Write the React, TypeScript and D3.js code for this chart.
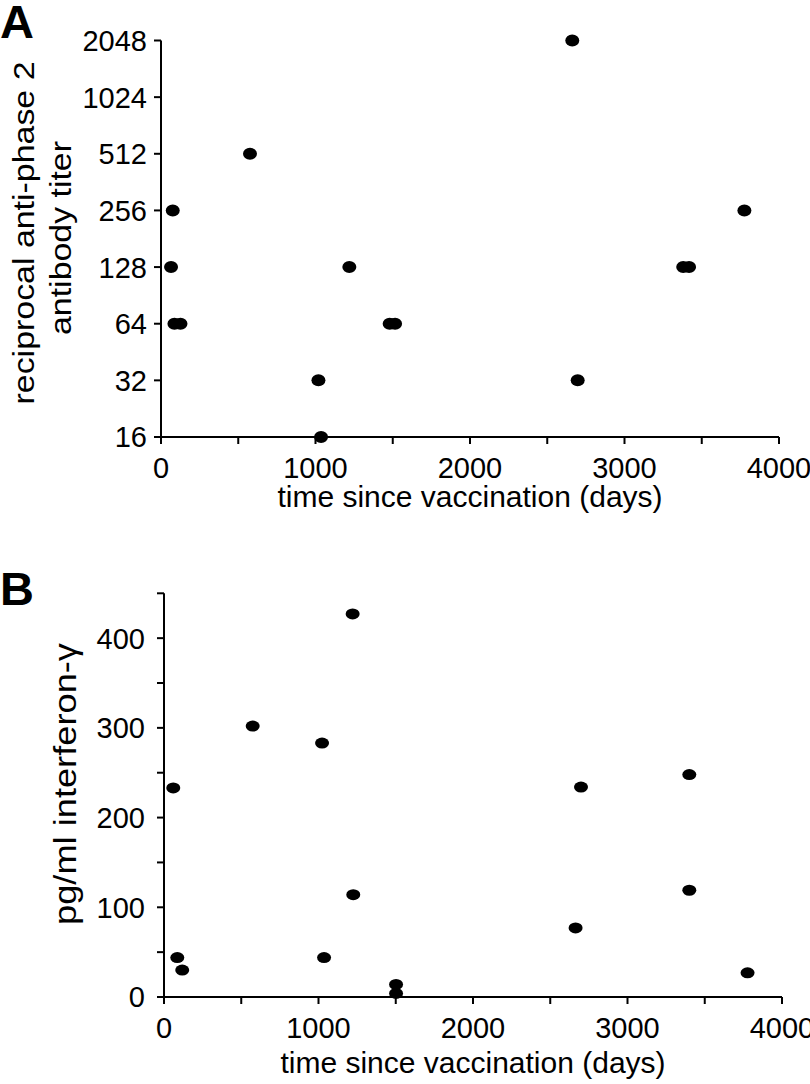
import React from "react";
import * as d3 from "d3";

// Panel A: reciprocal anti-phase 2 antibody titer
const titerDays = [65, 76, 87, 126, 576, 1019, 1036, 1219, 1480, 1515, 2662, 2697, 3380, 3418, 3776];
const titerValues = [128, 256, 64, 64, 512, 32, 16, 128, 64, 64, 2048, 32, 128, 128, 256];
const titerTicks = [16, 32, 64, 128, 256, 512, 1024, 2048];

// Panel B: pg/ml interferon-gamma
const ifnDays = [60, 86, 118, 574, 1023, 1036, 1221, 1225, 1502, 1502, 2664, 2699, 3400, 3400, 3777];
const ifnValues = [233, 44, 30, 302, 283, 44, 427, 114, 14, 4, 77, 234, 248, 119, 27];
const ifnTicks = [0, 50, 100, 150, 200, 250, 300, 350, 400, 450];
const ifnLabels = [0, 100, 200, 300, 400];

const dayTicks = [0, 500, 1000, 1500, 2000, 2500, 3000, 3500, 4000];
const dayLabels = [0, 1000, 2000, 3000, 4000];

const FONT = "'Liberation Sans', Arial, Helvetica, sans-serif";

export default function App() {
  const xA = d3.scaleLinear().domain([0, 4000]).range([161, 779]);
  const yA = d3.scaleLog().base(2).domain([16, 2048]).range([437, 40.5]);
  const xB = d3.scaleLinear().domain([0, 4000]).range([164, 782]);
  const yB = d3.scaleLinear().domain([0, 450]).range([997, 593.3]);

  const axisStroke = { stroke: "#000", strokeWidth: 2, fill: "none" } as const;

  return (
    <svg
      width={810}
      height={1084}
      style={{ position: "absolute", left: 0, top: 0, background: "#fff" }}
      fontFamily={FONT}
    >
      <rect x={0} y={0} width={810} height={1084} fill="#fff" />

      {/* ---------- Panel A ---------- */}
      <text x={0} y={38} fontSize={47} fontWeight="bold" fill="#000">A</text>

      {/* y axis */}
      <line x1={xA(0)} x2={xA(0)} y1={yA(2048)} y2={yA(16)} {...axisStroke} />
      {titerTicks.map((t) => (
        <g key={"ya" + t}>
          <line x1={xA(0) - 7} x2={xA(0)} y1={yA(t)} y2={yA(t)} {...axisStroke} />
          <text x={147} y={yA(t)} dy="0.36em" fontSize={29} textAnchor="end" fill="#000">
            {t}
          </text>
        </g>
      ))}
      {/* x axis */}
      <line x1={xA(0)} x2={xA(4000)} y1={yA(16)} y2={yA(16)} {...axisStroke} />
      {dayTicks.map((t) => (
        <line key={"xa" + t} x1={xA(t)} x2={xA(t)} y1={yA(16)} y2={yA(16) + 7} {...axisStroke} />
      ))}
      {dayLabels.map((t) => (
        <text key={"xal" + t} x={xA(t)} y={478} fontSize={29} textAnchor="middle" fill="#000">
          {t}
        </text>
      ))}
      <text x={470} y={507} fontSize={30} textAnchor="middle" fill="#000">
        time since vaccination (days)
      </text>
      <text
        transform="translate(34,233) rotate(-90)"
        fontSize={30}
        textAnchor="middle"
        fill="#000"
        textLength={343}
        lengthAdjust="spacingAndGlyphs"
      >
        reciprocal anti-phase 2
      </text>
      <text
        transform="translate(71,238) rotate(-90)"
        fontSize={30}
        textAnchor="middle"
        fill="#000"
        textLength={194}
        lengthAdjust="spacingAndGlyphs"
      >
        antibody titer
      </text>
      {titerDays.map((d, i) => (
        <ellipse key={"pa" + i} cx={xA(d)} cy={yA(titerValues[i])} rx={7} ry={6} fill="#000" />
      ))}

      {/* ---------- Panel B ---------- */}
      <text x={0} y={605} fontSize={47} fontWeight="bold" fill="#000">B</text>

      <line x1={xB(0)} x2={xB(0)} y1={yB(450)} y2={yB(0)} {...axisStroke} />
      {ifnTicks.map((t) => (
        <line key={"yb" + t} x1={xB(0) - 7} x2={xB(0)} y1={yB(t)} y2={yB(t)} {...axisStroke} />
      ))}
      {ifnLabels.map((t) => (
        <text key={"ybl" + t} x={145} y={yB(t)} dy="0.36em" fontSize={29} textAnchor="end" fill="#000">
          {t}
        </text>
      ))}
      <line x1={xB(0)} x2={xB(4000)} y1={yB(0)} y2={yB(0)} {...axisStroke} />
      {dayTicks.map((t) => (
        <line key={"xb" + t} x1={xB(t)} x2={xB(t)} y1={yB(0)} y2={yB(0) + 7} {...axisStroke} />
      ))}
      {dayLabels.map((t) => (
        <text key={"xbl" + t} x={xB(t)} y={1038} fontSize={29} textAnchor="middle" fill="#000">
          {t}
        </text>
      ))}
      <text x={473} y={1073} fontSize={30} textAnchor="middle" fill="#000">
        time since vaccination (days)
      </text>
      <text
        transform="translate(76,784) rotate(-90)"
        fontSize={31}
        textAnchor="middle"
        fill="#000"
        textLength={282}
        lengthAdjust="spacingAndGlyphs"
      >
        pg/ml interferon-γ
      </text>
      {ifnDays.map((d, i) => (
        <ellipse key={"pb" + i} cx={xB(d)} cy={yB(ifnValues[i])} rx={7} ry={5.5} fill="#000" />
      ))}
    </svg>
  );
}
